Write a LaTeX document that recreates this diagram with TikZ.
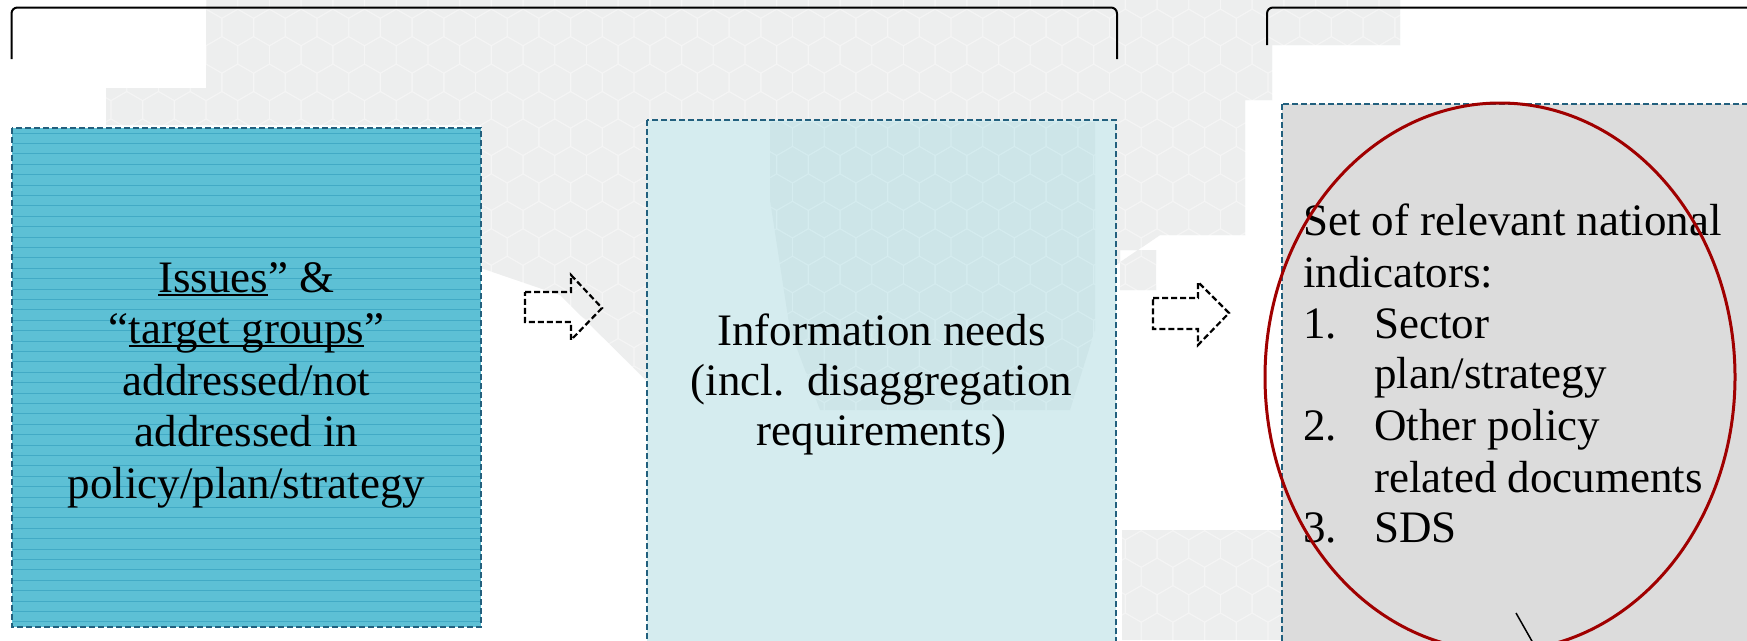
\documentclass[tikz,border=0pt]{standalone}
\usepackage{fontspec}
\setmainfont{Liberation Serif}
\definecolor{boxone}{HTML}{5DC0D5}
\definecolor{boxoneline}{HTML}{42AAC5}
\definecolor{boxtwo}{HTML}{D5ECEF}
\definecolor{boxtwohex}{HTML}{CDE5E8}
\definecolor{boxthree}{HTML}{DCDCDC}
\definecolor{borderc}{HTML}{22607E}
\definecolor{hexgray}{HTML}{EDEEEE}
\definecolor{hexgap}{HTML}{F5F5F5}
\definecolor{ringred}{HTML}{A00000}
\newcommand\ulx[1]{\sbox0{#1}\rlap{\rule[-3.5pt]{\wd0}{1.8pt}}\usebox0}
\newcommand\hexfield[5]{%
  \foreach \j in {#3,...,#4} {%
    \foreach \i in {#1,...,#2} {%
      \pgfmathsetmacro\hx{\i*31.7 + mod(\j,2)*15.85}%
      \pgfmathsetmacro\hy{\j*27.45}%
      \fill[#5] (\hx,\hy) +(90:17.5) -- +(30:17.5) -- +(-30:17.5) -- +(-90:17.5) -- +(-150:17.5) -- +(150:17.5) -- cycle;
    }%
  }%
}
\begin{document}
\begin{tikzpicture}[x=1pt,y=-1pt,
  dbox/.style={line width=2pt, inner sep=0pt, outer sep=0pt, rectangle},
  dborder/.style={draw=borderc, line width=2.6pt, dash pattern=on 6pt off 3pt},
  txt/.style={anchor=base, inner sep=0pt, font=\fontsize{45}{51.5}\selectfont},
  blockarrow/.style={draw=black, line width=2.2pt, dash pattern=on 6pt off 3pt, line join=miter},
  bracket/.style={draw=black, line width=2pt, rounded corners=6pt}]
\clip (0,0) rectangle (1747,640);
\fill[white] (0,0) rectangle (1747,640);
% background hexagon field
\begin{scope}
\clip (206,0) -- (1400,0) -- (1400,45) -- (1272,45) -- (1272,100) -- (1245,100) -- (1245,235) -- (1160,235) -- (1116,265) -- (1116,330) -- (646,380) -- (560,295) -- (481,268) -- (481,125) -- (106,125) -- (106,88) -- (206,88) -- cycle
  (1120,250) rectangle (1156,290)
  (1122,530) -- (1282,530) -- (1282,640) -- (1122,640) -- cycle;
\fill[hexgap] (0,0) rectangle (1747,640);
\hexfield{2}{45}{0}{24}{hexgray}
\end{scope}
% brackets
\draw[bracket] (11.5,59) -- (11.5,7.5) -- (1117,7.5) -- (1117,59);
\draw[bracket] (1267,45) -- (1267,7.5) -- (1760,7.5);
% box 1
\node[dbox, fill=boxone, minimum width=469, minimum height=499] (issues) at (246.5,377.5) {};
\begin{scope}
\clip (13,129) rectangle (480,626);
\foreach \k in {0,...,48} {\draw[boxoneline, line width=0.9pt] (12,133+\k*10.4) -- (481,133+\k*10.4);}
\end{scope}
\draw[dborder] (issues.north west) rectangle (issues.south east);
% box 2
\node[dbox, fill=boxtwo, minimum width=469, minimum height=540] (needs) at (881.5,390) {};
\begin{scope}
\clip (770,122) -- (1095,122) -- (1095,330) -- (1070,410) -- (820,410) -- (790,330) -- (770,200) -- cycle;
\hexfield{23}{36}{3}{16}{boxtwohex}
\end{scope}
\draw[dborder] (needs.north west) rectangle (needs.south east);
% box 3
\node[dbox, fill=boxthree, minimum width=478, minimum height=556] (indic) at (1521,382) {};
\draw[dborder] (indic.north west) rectangle (indic.south east);
% arrows
\draw[blockarrow] (525,292) -- (571,292) -- (571,275) -- (602,308) -- (571,340) -- (571,322) -- (525,322) -- cycle;
\draw[blockarrow] (1153,298) -- (1198,298) -- (1198,282) -- (1229,313) -- (1198,345) -- (1198,329) -- (1153,329) -- cycle;
% texts box 1
\node[txt] (t1a) at (246.5,292) {\ulx{Issues}” \&};
\node[txt] (t1b) at (246.5,343.5) {“\ulx{target groups}”};
\node[txt] (t1c) at (246.5,395) {addressed/not};
\node[txt] (t1d) at (246.5,446.5) {addressed in};
\node[txt] (t1e) at (246.5,498) {policy/plan/strategy};
% texts box 2
\node[txt] (t2a) at (881.5,345) {Information needs};
\node[txt] (t2b) at (881.5,395) {(incl.\ \ disaggregation};
\node[txt] (t2c) at (881.5,445) {requirements)};
% texts box 3
\node[txt, anchor=base west] (t3a) at (1303,235) {Set of relevant national};
\node[txt, anchor=base west] (t3b) at (1303,287) {indicators:};
\node[txt, anchor=base west] (n1) at (1303,338) {1.};
\node[txt, anchor=base west] (t3c) at (1374,338) {Sector};
\node[txt, anchor=base west] (t3d) at (1374,388) {plan/strategy};
\node[txt, anchor=base west] (n2) at (1303,440) {2.};
\node[txt, anchor=base west] (t3e) at (1374,440) {Other policy};
\node[txt, anchor=base west] (t3f) at (1374,492) {related documents};
\node[txt, anchor=base west] (n3) at (1303,542) {3.};
\node[txt, anchor=base west] (t3g) at (1374,542) {SDS};
% red ellipse
\draw[ringred, line width=3pt] (1500,377) ellipse [x radius=235, y radius=274];
% pointer line
\coordinate (ptrA) at (1516,613);
\coordinate (ptrB) at (1537,650);
\draw[black, line width=1.5pt] (ptrA) -- (ptrB);
\end{tikzpicture}
\end{document}
